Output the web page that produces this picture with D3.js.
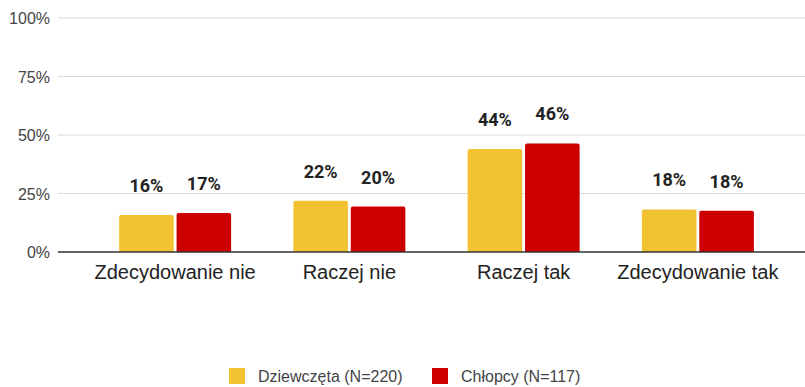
<!DOCTYPE html>
<html><head><meta charset="utf-8">
<script src="https://cdn.jsdelivr.net/npm/d3@7"></script>
<style>body{margin:0;background:#fff}svg{display:block}</style>
</head><body>
<svg id="c" width="805" height="387"></svg>
<script>
const categories = ["Zdecydowanie nie", "Raczej nie", "Raczej tak", "Zdecydowanie tak"];
const seriesNames = ["Dziewczęta (N=220)", "Chłopcy (N=117)"];
const girls = [15.8, 21.9, 44.0, 18.2];
const boys = [16.7, 19.4, 46.4, 17.6];
const girlsLabels = ["16%", "22%", "44%", "18%"];
const boysLabels = ["17%", "20%", "46%", "18%"];
const yTicks = [0, 25, 50, 75, 100];
const colors = ["#f1c232", "#cc0000"];

const axisFont = "'Liberation Sans', Arial, sans-serif";
const svg = d3.select("#c");
const y = d3.scaleLinear().domain([0, 100]).range([252, 18]);
const x = d3.scaleBand().domain(categories).range([88, 785]);
const inner = d3.scaleBand().domain([0, 1]).range([-56, 56]).paddingInner(0.05);

// grid
svg.append("g").selectAll("line").data(yTicks.filter(d => d > 0)).join("line")
  .attr("x1", 58).attr("x2", 805).attr("y1", d => y(d)).attr("y2", d => y(d))
  .attr("stroke", "#d9d9d9").attr("stroke-width", 1);

// y labels
svg.append("g").selectAll("text").data(yTicks).join("text")
  .attr("x", 50).attr("y", d => y(d) + 6).attr("text-anchor", "end")
  .attr("font-family", axisFont).attr("font-size", 16).attr("fill", "#444")
  .text(d => d + "%");

const series = [girls, boys];
const labels = [girlsLabels, boysLabels];
function barPath(x0, w, yTop, yBot, r) {
  return `M${x0},${yBot}V${yTop + r}Q${x0},${yTop} ${x0 + r},${yTop}H${x0 + w - r}Q${x0 + w},${yTop} ${x0 + w},${yTop + r}V${yBot}Z`;
}
series.forEach((vals, s) => {
  const g = svg.append("g");
  g.selectAll("path").data(categories).join("path")
    .attr("d", (c, i) => barPath(x(c) + x.bandwidth() / 2 + inner(s), inner.bandwidth(), y(vals[i]), y(0), 2))
    .attr("fill", colors[s]);
  g.selectAll("text").data(categories).join("text")
    .attr("x", (c, i) => x(c) + x.bandwidth() / 2 + inner(s) + inner.bandwidth() / 2)
    .attr("y", (c, i) => y(vals[i]) - 23)
    .attr("text-anchor", "middle")
    .attr("font-family", "Roboto, Arial, sans-serif").attr("font-weight", "bold")
    .attr("font-size", 18).attr("fill", "#222")
    .text((c, i) => labels[s][i]);
});

// baseline
svg.append("line").attr("x1", 58).attr("x2", 805).attr("y1", y(0)).attr("y2", y(0))
  .attr("stroke", "#333").attr("stroke-width", 1.3);

// x labels
svg.append("g").selectAll("text").data(categories).join("text")
  .attr("x", c => x(c) + x.bandwidth() / 2).attr("y", 279).attr("text-anchor", "middle")
  .attr("font-family", axisFont).attr("font-size", 20).attr("fill", "#222")
  .text(c => c);

// legend
const legX = [229, 432];
seriesNames.forEach((n, s) => {
  svg.append("rect").attr("x", legX[s]).attr("y", 368).attr("width", 16).attr("height", 16).attr("fill", colors[s]);
  svg.append("text").attr("x", legX[s] + 29).attr("y", 382)
    .attr("font-family", axisFont).attr("font-size", 16).attr("fill", "#444").text(n);
});
</script>
</body></html>
